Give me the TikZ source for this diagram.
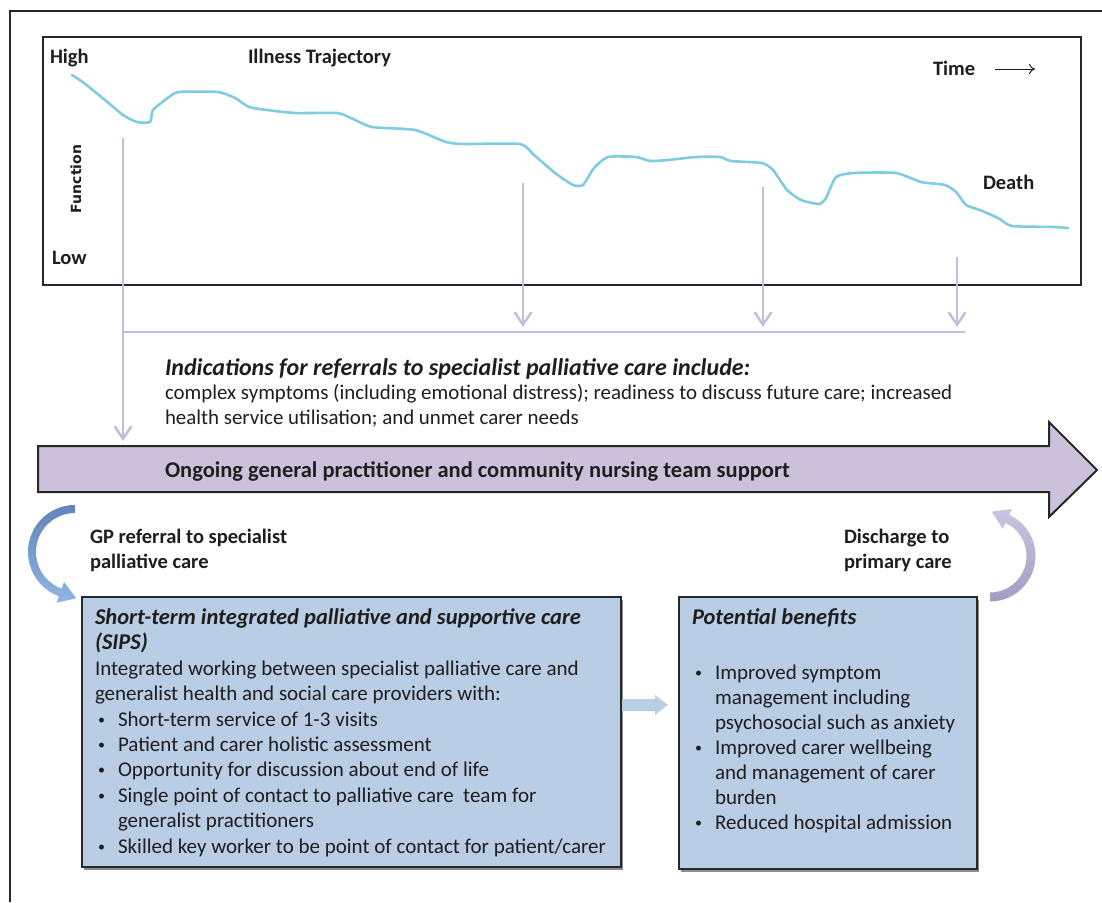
\documentclass[tikz,border=0pt]{standalone}
\usepackage{fontspec}
\setmainfont{Carlito}
\newfontfamily\funcfont{DejaVu Sans}
\usetikzlibrary{arrows.meta,calc}
\definecolor{txt}{RGB}{30,30,30}
\definecolor{curvecol}{RGB}{128,204,224}
\definecolor{lilac}{RGB}{196,190,220}
\definecolor{bigfill}{RGB}{204,193,218}
\definecolor{boxblue}{RGB}{185,205,229}
\definecolor{frame}{RGB}{40,40,40}
\definecolor{bluedark}{RGB}{98,132,186}
\definecolor{bluelight}{RGB}{142,181,226}
\definecolor{purpdark}{RGB}{165,156,196}
\definecolor{purplight}{RGB}{204,197,223}
\newcommand\mybul{\hspace*{3pt}\makebox[20pt][l]{\raisebox{2pt}{\fontsize{14}{14}\selectfont •}}}
\newcommand\myind{\hspace*{23pt}}
\newcommand\hdr[1]{{\fontsize{22.5}{25}\selectfont\bfseries\itshape #1}}
\begin{document}
\begin{tikzpicture}[x=1pt,y=-1pt,
  every node/.style={inner sep=0pt, outer sep=0pt, text=txt},
  lbl/.style={font=\fontsize{20.5}{25}\selectfont\bfseries, anchor=base west},
  body/.style={font=\fontsize{21}{25}\selectfont, anchor=base west, align=left},
  lil/.style={draw=lilac, line width=2.5pt},
  lilarrow/.style={lil, -{Straight Barb[length=12pt,width=16pt,line cap=round]}},
  box/.style={draw=frame, line width=2pt, fill=boxblue, anchor=north west},
  shadowbox/.style={fill=black!45, draw=none, anchor=north west}]
\useasboundingbox (0,0) rectangle (1102,902);
\fill[white] (0,0) rectangle (1102,902);
% outer frame
\draw[frame, line width=2pt] (10,902) -- (10,11) -- (1102,11);
% trajectory box
\node[draw=frame, line width=2.5pt, minimum width=1038pt, minimum height=248pt, anchor=north west] (traj) at (43,37) {};
\node[lbl] (high) at (50,63) {High};
\node[lbl] (title) at (248,63) {Illness Trajectory};
\node[lbl] (time) at (933,75) {Time};
\coordinate (ta) at (995,69);
\coordinate (tb) at (1035,69);
\draw[txt, line width=1pt, -{To[length=6pt,width=10pt]}] (ta) -- (tb);
\node[lbl] (low) at (52,264) {Low};
\node[lbl] (death) at (983,189) {Death};
\node[rotate=90, font=\funcfont\bfseries\fontsize{14}{16}\selectfont] (func) at (76,179) {Function};
% trajectory curve
\draw[curvecol, line width=2.6pt, line join=round, line cap=round] plot[smooth, tension=0.35] coordinates {
(72,75) (84,83) (105,100) (123,115) (137,122) (150,122) (153,110) (169,97) (179,92) (218,92) (235,98) (249,107) (267,110) (295,113) (337,113) (351,118) (372,127) (415,130) (446,142) (464,144) (520,144) (534,155) (555,173) (573,185) (583,185) (594,168) (608,157) (636,157) (650,161) (668,160) (696,157) (720,157) (731,161) (762,163) (773,170) (787,190) (801,200) (819,204) (826,198) (836,177) (854,173) (896,173) (921,182) (945,185) (956,192) (966,205) (980,210) (998,218) (1012,226) (1054,227) (1068,228)};
% referral arrows
\coordinate (s1) at (123,138); \coordinate (e1) at (123,441);
\coordinate (s2) at (523,183); \coordinate (e2) at (523,327);
\coordinate (s3) at (763,187); \coordinate (e3) at (763,327);
\coordinate (s4) at (957,257); \coordinate (e4) at (957,327);
\coordinate (h1) at (123,332); \coordinate (h2) at (965,332);
\draw[lil] (h1) -- (h2);
\draw[lilarrow] (s1) -- (e1);
\draw[lilarrow] (s2) -- (e2);
\draw[lilarrow] (s3) -- (e3);
\draw[lilarrow] (s4) -- (e4);
% indications text
\node[body, font=\fontsize{20.9}{24.5}\selectfont] (ind) at (165,424) {{\fontsize{24}{24}\selectfont\bfseries\itshape Indications for referrals to specialist palliative care include:}\\
complex symptoms (including emotional distress); readiness to discuss future care; increased\\
health service utilisation; and unmet carer needs};
% big arrow
\draw[fill=bigfill, draw=frame, line width=2pt, line join=miter] (38,446) -- (1049,446) -- (1049,422) -- (1097,470) -- (1049,517) -- (1049,492) -- (38,492) -- cycle;
\node[lbl, font=\fontsize{22.5}{25}\selectfont\bfseries] (ongoing) at (165,477) {Ongoing general practitioner and community nursing team support};
% curved arrows
\shade[top color=bluedark, bottom color=bluelight] (75,505) arc[start angle=-90, end angle=-250, radius=47] -- (56.53,602.74) -- (76.26,598.22) -- (64.06,582.07) -- (61.66,588.65) arc[start angle=-250, end angle=-90, radius=39] -- cycle;
\shade[top color=purplight, bottom color=purpdark] (990,601.5) arc[start angle=90, end angle=-65, radius=45.5] -- (1011.98,508.87) -- (991.92,511.66) -- (1002.68,528.81) -- (1005.42,522.92) arc[start angle=-65, end angle=90, radius=36.5] -- cycle;
\node[lbl, align=left] (gp) at (90,568) {GP referral to specialist\\palliative care};
\node[lbl, align=left] (dis) at (844,568) {Discharge to\\primary care};
% boxes
\node[shadowbox, minimum width=539pt, minimum height=270pt] (sipsshadow) at (84,600) {};
\node[shadowbox, minimum width=298pt, minimum height=272pt] (benshadow) at (681,600) {};
\node[box, minimum width=539pt, minimum height=270pt] (sips) at (82,597) {};
\node[box, minimum width=298pt, minimum height=272pt] (ben) at (679,597) {};
\draw[fill=boxblue, draw=none] (622,699) -- (655,699) -- (655,695) -- (668,705) -- (655,715) -- (655,711) -- (622,711) -- cycle;
\node[body, font=\fontsize{21}{25.4}\selectfont] (sipstxt) at (95,853) {\hdr{Short-term integrated palliative and supportive care}\\
\hdr{(SIPS)}\\
Integrated working between specialist palliative care and\\
generalist health and social care providers with:\\
\mybul Short-term service of 1-3 visits\\
\mybul Patient and carer holistic assessment\\
\mybul Opportunity for discussion about end of life\\
\mybul Single point of contact to palliative care\ \ team for\\
\myind generalist practitioners\\
\mybul Skilled key worker to be point of contact for patient/carer};
\node[body] (bentxt) at (692,829) {\hdr{Potential benefits}\\[30pt]
\mybul Improved symptom\\
\myind management including\\
\myind psychosocial such as anxiety\\
\mybul Improved carer wellbeing\\
\myind and management of carer\\
\myind burden\\
\mybul Reduced hospital admission};
\end{tikzpicture}
\end{document}
